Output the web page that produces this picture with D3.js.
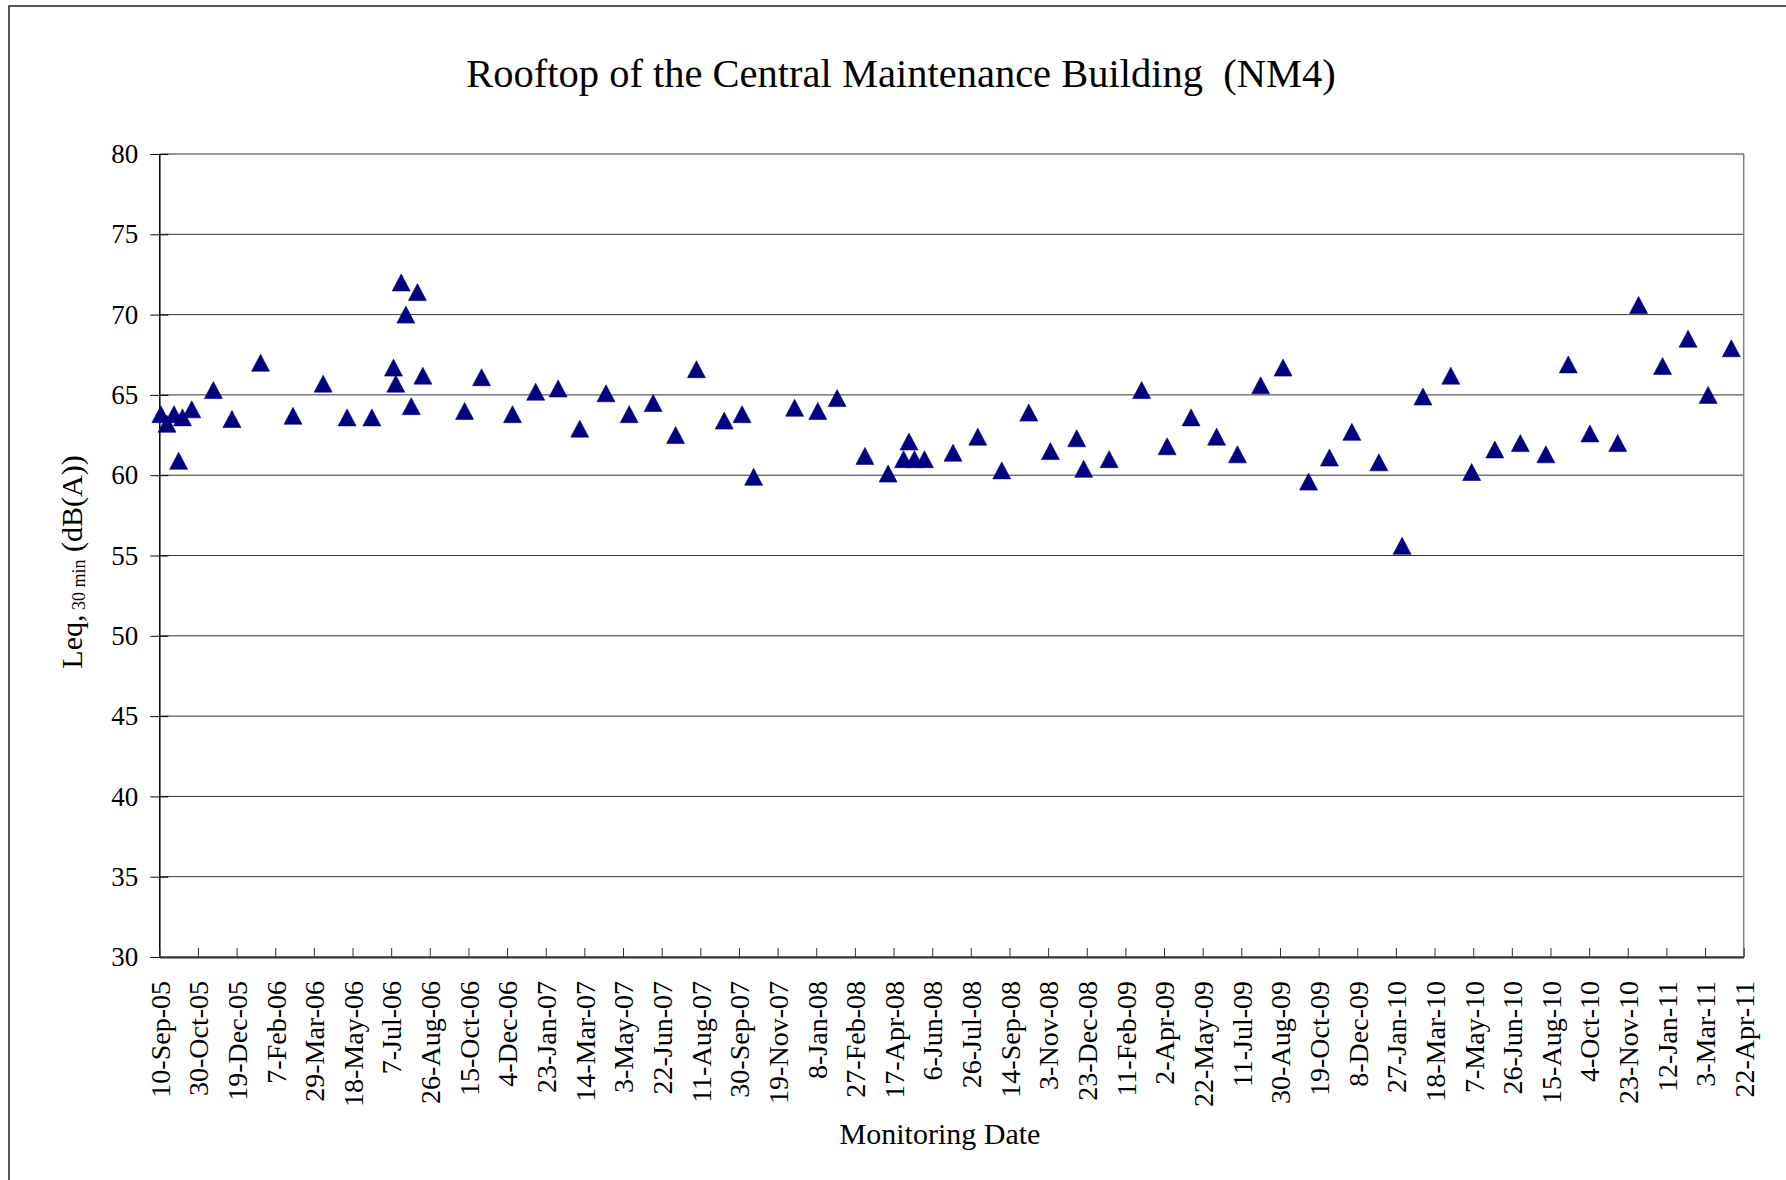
<!DOCTYPE html>
<html lang="en">
<head>
  <meta charset="UTF-8">
  <title>NM4</title>
  <style>
    body {
      margin: 0;
      background: #fff;
    }
    svg text {
      font-family: "Liberation Serif", "Times New Roman", serif;
      fill: #000;
    }
    .grid line {
      stroke: #333;
      stroke-width: 1;
    }
  </style>
</head>
<body>
  <svg></svg>
<script src="https://cdn.jsdelivr.net/npm/d3@7"></script>
<script>
  var chartTitle = 'Rooftop of the Central Maintenance Building  (NM4)'
  var xTitle = 'Monitoring Date'

  // monitoring dates and Leq, 30 min readings (dB(A))
  var dates = [
    '2005-09-12', '2005-09-20', '2005-09-29', '2005-10-05', '2005-10-10', '2005-10-22',
    '2005-11-19', '2005-12-13', '2006-01-19', '2006-03-02', '2006-04-10', '2006-05-11',
    '2006-06-12', '2006-07-10', '2006-07-13', '2006-07-20', '2006-07-26', '2006-08-02',
    '2006-08-10', '2006-08-17', '2006-10-10', '2006-11-01', '2006-12-11', '2007-01-10',
    '2007-02-08', '2007-03-08', '2007-04-11', '2007-05-11', '2007-06-11', '2007-07-10',
    '2007-08-06', '2007-09-11', '2007-10-04', '2007-10-19', '2007-12-11', '2008-01-10',
    '2008-02-04', '2008-03-11', '2008-04-10', '2008-04-30', '2008-05-07', '2008-05-14',
    '2008-05-27', '2008-07-03', '2008-08-04', '2008-09-04', '2008-10-09', '2008-11-06',
    '2008-12-10', '2008-12-19', '2009-01-21', '2009-03-04', '2009-04-06', '2009-05-07',
    '2009-06-09', '2009-07-06', '2009-08-05', '2009-09-03', '2009-10-06', '2009-11-02',
    '2009-12-01', '2010-01-05', '2010-02-04', '2010-03-03', '2010-04-08', '2010-05-05',
    '2010-06-04', '2010-07-07', '2010-08-09', '2010-09-07', '2010-10-05', '2010-11-10',
    '2010-12-07', '2011-01-07', '2011-02-09', '2011-03-07', '2011-04-06'
  ]
  var leq = [
    63.8, 63.2, 63.8, 60.9, 63.6, 64.1,
    65.3, 63.5, 67.0, 63.7, 65.7, 63.6,
    63.6, 66.7, 65.7, 72.0, 70.0, 64.3,
    71.4, 66.2, 64.0, 66.1, 63.8, 65.2,
    65.4, 62.9, 65.1, 63.8, 64.5, 62.5,
    66.6, 63.4, 63.8, 59.9, 64.2, 64.0,
    64.8, 61.2, 60.1, 61.0, 62.1, 61.0,
    61.0, 61.4, 62.4, 60.3, 63.9, 61.5,
    62.3, 60.4, 61.0, 65.3, 61.8, 63.6,
    62.4, 61.3, 65.6, 66.7, 59.6, 61.1,
    62.7, 60.8, 55.6, 64.9, 66.2, 60.2,
    61.6, 62.0, 61.3, 66.9, 62.6, 62.0,
    70.6, 66.8, 68.5, 65.0, 67.9
  ]

  var xTicks = [
    '10-Sep-05', '30-Oct-05', '19-Dec-05', '7-Feb-06', '29-Mar-06', '18-May-06', '7-Jul-06',
    '26-Aug-06', '15-Oct-06', '4-Dec-06', '23-Jan-07', '14-Mar-07', '3-May-07', '22-Jun-07',
    '11-Aug-07', '30-Sep-07', '19-Nov-07', '8-Jan-08', '27-Feb-08', '17-Apr-08', '6-Jun-08',
    '26-Jul-08', '14-Sep-08', '3-Nov-08', '23-Dec-08', '11-Feb-09', '2-Apr-09', '22-May-09',
    '11-Jul-09', '30-Aug-09', '19-Oct-09', '8-Dec-09', '27-Jan-10', '18-Mar-10', '7-May-10',
    '26-Jun-10', '15-Aug-10', '4-Oct-10', '23-Nov-10', '12-Jan-11', '3-Mar-11', '22-Apr-11'
  ]
  var yTicks = [30, 35, 40, 45, 50, 55, 60, 65, 70, 75, 80]

  var width = 1786
  var height = 1180
  var plotLeft = 159.3, plotRight = 1743.7, plotTop = 154, plotBottom = 957

  var parseTick = d3.utcParse('%d-%b-%y')
  var parseDate = d3.utcParse('%Y-%m-%d')
  var fmt = d3.utcFormat('%-d-%b-%y')
  var tickDates = xTicks.map(parseTick)
  var points = dates.map((d, i) => ({ date: parseDate(d), v: leq[i] }))

  var x = d3.scaleUtc()
    .domain([tickDates[0], tickDates[tickDates.length - 1]])
    .range([plotLeft, plotRight])
  var y = d3.scaleLinear()
    .domain([30, 80])
    .range([plotBottom, plotTop])

  var svg = d3.select('svg')
    .attr('width', width)
    .attr('height', height)

  svg.append('rect')
    .attr('width', width).attr('height', height)
    .attr('fill', '#fff')

  // chart area frame (runs off right and bottom edges)
  svg.append('rect')
    .attr('x', 9).attr('y', 6)
    .attr('width', width + 20).attr('height', height + 20)
    .attr('fill', 'none')
    .attr('stroke', '#000')
    .attr('stroke-width', 1.3)

  svg.append('g')
    .attr('class', 'grid')
    .selectAll('line')
    .data(yTicks)
    .enter()
    .append('line')
    .attr('x1', plotLeft)
    .attr('x2', plotRight)
    .attr('y1', d => y(d))
    .attr('y2', d => y(d))

  // plot area right edge
  svg.append('line')
    .attr('x1', plotRight).attr('x2', plotRight)
    .attr('y1', plotTop).attr('y2', plotBottom)
    .attr('stroke', '#808080')
    .attr('stroke-width', 1.5)

  var yAxis = svg.append('g')
    .attr('transform', `translate(${plotLeft},0)`)
    .call(d3.axisLeft(y).tickValues(yTicks).tickSizeInner(9).tickSizeOuter(0).tickPadding(12))
  yAxis.selectAll('.tick line').attr('x2', 9).attr('x1', -9).attr('stroke', '#000')
  yAxis.select('.domain').attr('stroke', '#000').attr('stroke-width', 1.5)
  yAxis.selectAll('text')
    .style('font-size', '27px')

  var xAxis = svg.append('g')
    .attr('transform', `translate(0,${plotBottom})`)
    .call(d3.axisBottom(x).tickValues(tickDates).tickFormat(fmt).tickSizeInner(-9).tickSizeOuter(0))
  xAxis.select('.domain').attr('stroke', '#333').attr('stroke-width', 2)
  xAxis.selectAll('.tick line').attr('stroke', '#333')
  xAxis.selectAll('text')
    .style('font-size', '28px')
    .attr('text-anchor', 'end')
    .attr('transform', 'translate(0,24) rotate(-90)')
    .attr('x', 0)
    .attr('y', 0)
    .attr('dy', '0.35em')
  svg.selectAll('g[font-family]').attr('font-family', null).attr('font-size', null)

  svg.append('g')
    .selectAll('path')
    .data(points)
    .enter()
    .append('path')
    .attr('d', 'M0,-8.5L9,8.5L-9,8.5Z')
    .attr('transform', d => `translate(${x(d.date)},${y(d.v)})`)
    .attr('fill', '#000080')
    .attr('stroke', '#000080')
    .attr('stroke-width', 0.6)

  svg.append('text')
    .attr('x', 901)
    .attr('y', 87)
    .attr('text-anchor', 'middle')
    .style('font-size', '40.5px')
    .style('white-space', 'pre')
    .text(chartTitle)

  svg.append('text')
    .attr('x', 940)
    .attr('y', 1144)
    .attr('text-anchor', 'middle')
    .style('font-size', '30px')
    .text(xTitle)

  var yLabel = svg.append('text')
    .attr('transform', 'translate(82,562) rotate(-90)')
    .attr('text-anchor', 'middle')
    .style('font-size', '30px')
  yLabel.append('tspan').text('Leq,')
  yLabel.append('tspan').attr('dy', 3).style('font-size', '18px').text(' 30 min')
  yLabel.append('tspan').attr('dy', -3).text(' (dB(A))')
</script>
</body>
</html>
